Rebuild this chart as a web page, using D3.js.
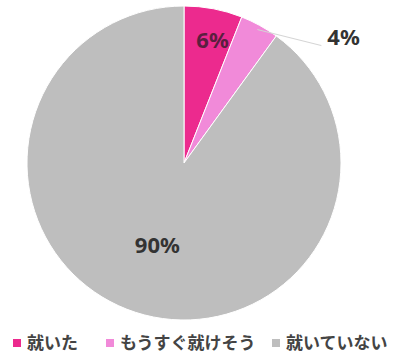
<!DOCTYPE html>
<html>
<head>
<meta charset="utf-8">
<script src="https://cdn.jsdelivr.net/npm/d3@7"></script>
<style>
    body { margin: 0; background: #fff; }
    text { font-family: "Noto Sans CJK JP", "Noto Sans", sans-serif; }
    .pct { font-family: "Noto Sans", sans-serif; }
</style>
</head>
<body>
<div id="chart"></div>
<script>
// data
const categories = ['就いた', 'もうすぐ就けそう', '就いていない'];
const values = [6, 4, 90];
const labels = ['6%', '4%', '90%'];
const colors = ['#ec2a8e', '#f18ad9', '#bebebe'];

const width = 397, height = 354;
const cx = 184, cy = 163, radius = 157;

const svg = d3.select('#chart').append('svg')
    .attr('width', width)
    .attr('height', height);

const pie = d3.pie().sort(null).value(d => d);
const arcs = pie(values);
const arc = d3.arc().innerRadius(0).outerRadius(radius);

const g = svg.append('g')
    .attr('transform', `translate(${cx}, ${cy})`);

g.selectAll('path')
    .data(arcs)
    .join('path')
    .attr('d', arc)
    .attr('fill', (d, i) => colors[i])
    .attr('stroke', '#fff')
    .attr('stroke-width', 1);

// labels (6% inside, 4% outside with leader, 90% inside)
const p6 = d3.arc().innerRadius(radius * 0.8).outerRadius(radius * 0.8).centroid(arcs[0]);
g.append('text')
    .attr('class', 'pct')
    .attr('x', p6[0] + 5).attr('y', p6[1] + 8)
    .attr('text-anchor', 'middle')
    .attr('font-size', 22).attr('font-weight', 'bold')
    .attr('fill', '#5a1f3f')
    .text(labels[0]);

const edge4 = d3.arc().innerRadius(radius * 0.97).outerRadius(radius * 0.97).centroid(arcs[1]);
const out4 = [edge4[0] + 64, edge4[1] + 16];
g.append('line')
    .attr('x1', edge4[0]).attr('y1', edge4[1])
    .attr('x2', out4[0]).attr('y2', out4[1])
    .attr('stroke', '#d4d4d4').attr('stroke-width', 1);
g.append('text')
    .attr('class', 'pct')
    .attr('x', out4[0] + 6).attr('y', out4[1] - 1)
    .attr('text-anchor', 'start')
    .attr('font-size', 22).attr('font-weight', 'bold')
    .attr('fill', '#333')
    .text(labels[1]);

const p90 = d3.arc().innerRadius(radius * 0.55).outerRadius(radius * 0.55).centroid(arcs[2]);
g.append('text')
    .attr('class', 'pct')
    .attr('x', p90[0]).attr('y', p90[1] + 8)
    .attr('text-anchor', 'middle')
    .attr('font-size', 22).attr('font-weight', 'bold')
    .attr('fill', '#333')
    .text(labels[2]);

// legend
const legendX = [13, 106, 272];
const legend = svg.append('g').attr('transform', 'translate(0, 343)');
categories.forEach((c, i) => {
    legend.append('rect')
        .attr('x', legendX[i]).attr('y', -4)
        .attr('width', 8).attr('height', 8)
        .attr('fill', colors[i]);
    legend.append('text')
        .attr('x', legendX[i] + 14).attr('y', 6)
        .attr('font-size', 17).attr('font-weight', 'bold')
        .attr('fill', '#444')
        .text(c);
});
</script>
</body>
</html>
